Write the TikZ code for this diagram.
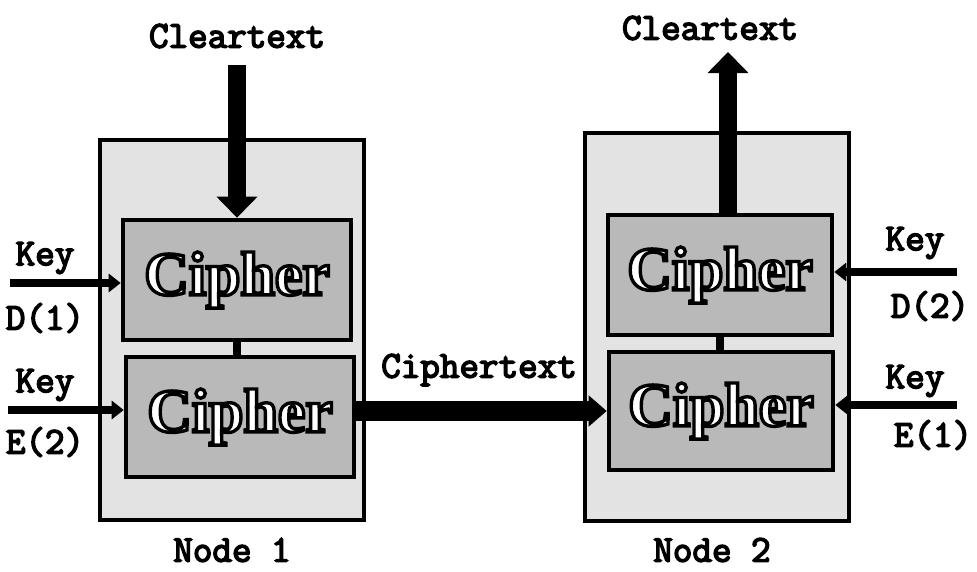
\documentclass[tikz,border=0pt]{standalone}
\usepackage{fontspec}
\setmonofont{Latin Modern Mono}[AutoFakeBold=4]
\newfontfamily\cipherfont{Liberation Serif}
\newcommand\outlinetext[1]{%
  \special{pdf:literal direct 1 g 0 G 2 Tr 2.4 w}#1\special{pdf:literal direct 0 Tr 0 g 0 G}}
\usetikzlibrary{arrows.meta,positioning}

\begin{document}
\begin{tikzpicture}[
  x=0.025cm, y=-0.025cm,
  every node/.style={font=\ttfamily\bfseries\fontsize{27}{30}\selectfont},
  nodebox/.style={
    draw,
    line width=2.8pt,
    fill=gray!22,
    minimum width=6.6cm,
    minimum height=9.5cm
  },
  cipherbox/.style={
    draw,
    line width=3.2pt,
    fill=gray!55,
    minimum width=5.7cm,
    minimum height=3cm,
    font=\cipherfont\bfseries\fontsize{44}{48}\selectfont
  },
  bigarrow/.style={line width=0.45cm, -{Triangle[length=0.53cm,width=1cm]}},
  ciphertextarrow/.style={line width=0.5cm, -{Triangle[length=0.45cm,width=0.75cm]}},
  keyarrow/.style={line width=0.22cm, -{Triangle[length=0.3cm,width=0.45cm]}},
  link/.style={line width=0.2cm}
]
\useasboundingbox (0,0) rectangle (977,571);

\node[nodebox] (node1) at (232,330) {};
\node[nodebox, minimum height=9.7cm] (node2) at (717,327) {};

\node[cipherbox] (c1a) at (237,280) {\outlinetext{Cipher}};
\node[cipherbox] (c1b) at (240,417) {\outlinetext{Cipher}};
\node[cipherbox, minimum width=5.6cm] (c2a) at (720,275) {\outlinetext{Cipher}};
\node[cipherbox, minimum width=5.6cm, minimum height=2.95cm] (c2b) at (721,411) {\outlinetext{Cipher}};

\draw[link] (c1a.south) -- (c1a.south |- c1b.north);
\draw[link] (c2a.south) -- (c2a.south |- c2b.north);

\node (clear1) at (237,36) {Cleartext};
\node (clear2) at (710,28) {Cleartext};
\coordinate (out2) at (728,52);
\draw[bigarrow, shorten <=0.3cm] (clear1.south -| c1a.north) -- (c1a.north);
\draw[bigarrow] (c2a.north -| out2) -- (out2);

\node (ctext) at (479,370) {Ciphertext};
\draw[ciphertextarrow] (c1b.east |- c2b.west) -- (c2b.west);

\node (key1) at (45,258) {Key};
\node (d1) at (45,318) {D(1)};
\node (key2) at (45,385) {Key};
\node (e2) at (45,442) {E(2)};
\coordinate (kin1) at (10,283);
\coordinate (kin2) at (8,410);
\draw[keyarrow] (kin1) -- (c1a.west |- kin1);
\draw[keyarrow] (kin2) -- (c1b.west |- kin2);

\node (key3) at (915,243) {Key};
\node (d2) at (930,306) {D(2)};
\node (key4) at (915,381) {Key};
\node (e1) at (933,435) {E(1)};
\coordinate (kin3) at (957,272);
\coordinate (kin4) at (957,405);
\draw[keyarrow] (kin3) -- (c2a.east |- kin3);
\draw[keyarrow] (kin4) -- (c2b.east |- kin4);

\node (lab1) at (232,550) {Node 1};
\node (lab2) at (712,550) {Node 2};
\end{tikzpicture}
\end{document}
